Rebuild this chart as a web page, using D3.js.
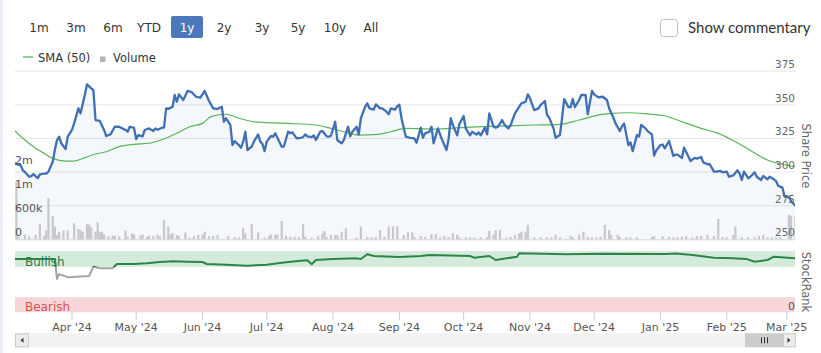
<!DOCTYPE html>
<html>
<head>
<meta charset="utf-8">
<script src="https://cdn.jsdelivr.net/npm/d3@7"></script>
<style>
  html, body { margin: 0; padding: 0; background: #eceef7; }
  svg { display: block; }
  text { font-family: "DejaVu Sans", Verdana, sans-serif; }
</style>
</head>
<body>
<svg id="chart" width="821" height="353"></svg>
<script>
// day offsets are calendar days after START_DATE
const START_DATE = new Date(2024, 2, 5);

const rangeButtons = ["1m", "3m", "6m", "YTD", "1y", "2y", "3y", "5y", "10y", "All"];
const activeRange = "1y";

const priceTicks = [250, 275, 300, 325, 350, 375];
const volumeTicks = [0, 600000, 1200000, 1800000];
const volumeTickLabels = ["0", "600k", "1m", "2m"];

// [day, share price]
const priceData = [
  [0, 306.5], [3, 305], [4, 301.5], [5, 300], [7, 296.5], [8, 297], [9, 298.5], [11, 295.4], [12, 298.3], [14, 298.8],
  [15, 298.8], [16, 300.3], [18, 307.7], [19, 316.4], [20, 323.8], [21, 326.3], [22, 321.4], [24, 317.1], [25, 326.3], [27, 331.3],
  [28, 336.2], [30, 347.4], [31, 343.7], [33, 357.3], [34, 365.2], [36, 362.3], [37, 361], [38, 338.7], [40, 338], [42, 331.3],
  [43, 326.8], [45, 328], [47, 333.7], [49, 333.7], [52, 331.3], [53, 330], [54, 333.7], [56, 332.8], [57, 324.6], [58, 327.5],
  [60, 326.5], [61, 331.3], [63, 332.5], [65, 330.5], [66, 332.5], [67, 331.5], [69, 333], [70, 333], [71, 347.4], [72, 347],
  [74, 348.6], [75, 357.3], [76, 352.3], [77, 357.8], [79, 353.6], [81, 360.3], [83, 359.4], [85, 356], [87, 355.3], [89, 360.3],
  [91, 353], [93, 347.4], [95, 346.9], [97, 348.6], [98, 337.4], [99, 340], [101, 335], [102, 320.1], [103, 323], [105, 320.1],
  [106, 318.1], [107, 322.6], [108, 330], [109, 316.4], [111, 318.9], [112, 322.6], [114, 328], [115, 322.6], [116, 321], [117, 315.6],
  [118, 322.6], [120, 326.8], [121, 326.3], [122, 328.8], [123, 325.5], [125, 318.9], [126, 319], [128, 330], [129, 329], [130, 329.5],
  [132, 325], [134, 325.5], [135, 326], [136, 328], [137, 326.6], [139, 326], [140, 327.3], [141, 323.8], [143, 330], [144, 330.5],
  [146, 326.6], [147, 326.3], [148, 327], [150, 337.4], [151, 323.8], [153, 321.4], [154, 323.8], [156, 333.7], [157, 326.6], [158, 330],
  [160, 333.7], [161, 328], [162, 340], [164, 348.6], [165, 351.1], [166, 347.4], [168, 346.5], [169, 350.3], [171, 347.4], [172, 347.4],
  [174, 344.9], [175, 343], [176, 347.4], [178, 346.5], [179, 349], [180, 350], [181, 340], [182, 333], [183, 326.3], [185, 325.5],
  [187, 325], [188, 321.8], [190, 333], [191, 325.5], [192, 328.8], [194, 330], [195, 333.7], [196, 321.4], [198, 332.5], [200, 323.8],
  [201, 320.1], [202, 316.4], [203, 324.6], [204, 340], [205, 335], [207, 327.3], [208, 335.5], [210, 341.7], [211, 332.5], [213, 327.3],
  [214, 330], [216, 327.8], [217, 329.5], [218, 327.3], [220, 333], [221, 328], [222, 343.7], [224, 333.7], [225, 333], [226, 333.7],
  [227, 336], [228, 338.7], [229, 335.5], [230, 333.7], [231, 332.5], [232, 335], [234, 343.7], [236, 348.6], [237, 351.1], [239, 352.3],
  [240, 357.8], [241, 355], [243, 346.1], [245, 347.4], [246, 350], [248, 352.8], [249, 342.4], [250, 340.5], [252, 332.5], [253, 325.5],
  [255, 327.5], [256, 340], [257, 354.3], [259, 348.3], [260, 348.3], [261, 354.3], [262, 348.3], [264, 353.6], [265, 357.3], [267, 357.3],
  [268, 343], [270, 360.3], [271, 357.8], [273, 355.5], [275, 356], [277, 353.6], [278, 347.4], [280, 340.4], [281, 336.2], [283, 330.5],
  [284, 334], [285, 336.2], [287, 320.1], [288, 322], [289, 315.6], [291, 327.5], [292, 326.5], [293, 335], [295, 332.5], [296, 330.5],
  [298, 328], [299, 312.2], [300, 316], [302, 320.1], [303, 320.5], [304, 317.6], [306, 323.1], [308, 312], [309, 313], [310, 313],
  [312, 310.5], [313, 318.1], [315, 311.7], [316, 308.2], [318, 310.5], [319, 310], [321, 311.2], [322, 307.2], [324, 305.8], [325, 305.8],
  [327, 300.3], [328, 300.3], [330, 300.8], [331, 299.8], [333, 300.3], [334, 296.5], [336, 297.5], [338, 301.3], [339, 298.8], [340, 294.1],
  [341, 300.3], [343, 295.4], [344, 296.5], [346, 299.8], [347, 296.5], [349, 294.1], [350, 297.1], [352, 294.6], [353, 296.5], [355, 294.6],
  [356, 293.3], [357, 289.8], [359, 288.4], [360, 281.7], [362, 281.3], [363, 278.5], [365, 275]
];

// [day, 50 day moving average]
const smaData = [
  [0, 331.3], [4, 325.1], [9, 318.9], [14, 313.9], [18, 310.2], [24, 308.2], [28, 308.2], [33, 310.7], [38, 313.4], [43, 315.1],
  [49, 318.9], [56, 320.6], [63, 321.4], [70, 324.6], [76, 328.8], [82, 333.7], [88, 336.2], [92, 341.2], [99, 343], [105, 340],
  [112, 337.4], [128, 336.2], [141, 335], [148, 332.5], [155, 329.6], [161, 327.5], [170, 328], [176, 330], [183, 332.5], [196, 332],
  [211, 333.3], [227, 334.2], [243, 335], [255, 335.5], [264, 338.7], [274, 342.7], [279, 343.7], [287, 344.1], [296, 343.2], [304, 341.9],
  [312, 337.4], [321, 332.5], [329, 328.8], [337, 322.6], [345, 315.1], [352, 309], [359, 305.8], [365, 304]
];

// [day, volume in thousands of shares]
const volumeData = [
  [1, 1430], [2, 60], [5, 120], [7, 70], [10, 110], [12, 380], [14, 90], [15, 230], [16, 1030], [18, 580],
  [19, 320], [20, 110], [21, 190], [23, 220], [25, 220], [28, 400], [30, 260], [31, 230], [32, 190], [34, 380],
  [35, 370], [36, 310], [38, 190], [39, 420], [40, 190], [41, 190], [42, 120], [44, 70], [46, 90], [47, 90],
  [49, 70], [52, 220], [53, 70], [55, 150], [56, 120], [59, 90], [60, 120], [62, 60], [63, 90], [65, 90],
  [67, 120], [68, 70], [70, 480], [72, 320], [73, 120], [74, 160], [76, 110], [77, 80], [80, 170], [82, 40],
  [84, 80], [86, 110], [88, 120], [89, 190], [91, 80], [93, 80], [95, 110], [100, 80], [103, 50], [105, 50],
  [107, 275], [108, 150], [111, 380], [114, 175], [117, 50], [119, 80], [120, 120], [122, 120], [123, 120], [125, 460],
  [127, 90], [129, 60], [131, 60], [133, 60], [135, 380], [136, 60], [139, 40], [142, 80], [144, 140], [145, 210],
  [146, 60], [148, 110], [150, 110], [151, 110], [153, 190], [155, 275], [160, 40], [162, 320], [165, 60], [167, 50],
  [169, 60], [171, 230], [173, 60], [175, 320], [177, 320], [179, 330], [182, 110], [184, 175], [186, 175], [187, 60],
  [190, 80], [192, 60], [195, 130], [197, 130], [199, 50], [201, 80], [203, 60], [205, 160], [207, 110], [208, 50],
  [211, 50], [213, 50], [215, 50], [218, 50], [221, 60], [222, 210], [224, 110], [225, 230], [227, 230], [230, 40],
  [232, 60], [234, 110], [236, 150], [237, 190], [239, 190], [240, 360], [243, 50], [246, 50], [249, 50], [251, 50],
  [253, 110], [255, 50], [260, 80], [261, 50], [264, 120], [266, 190], [268, 60], [270, 50], [272, 50], [274, 60],
  [276, 360], [278, 230], [279, 110], [282, 120], [283, 60], [286, 50], [288, 50], [291, 50], [298, 60], [299, 80],
  [303, 80], [306, 60], [308, 50], [310, 50], [312, 60], [314, 80], [317, 50], [319, 80], [321, 80], [324, 110],
  [327, 80], [329, 510], [331, 60], [333, 50], [336, 110], [337, 320], [340, 50], [343, 50], [346, 50], [348, 80],
  [350, 110], [352, 50], [354, 50], [356, 50], [358, 50], [362, 610], [363, 590], [365, 590]
];

// [day, StockRank]
const rankData = [
  [0, 88], [19, 88], [20, 55], [21, 63], [25, 58], [35, 60], [37, 75], [40, 72.6], [46, 72.6], [48, 79.7],
  [56, 79.7], [62, 81], [68, 83], [74, 84.2], [81, 83.6], [88, 83], [90, 79.7], [99, 78.6], [109, 77], [118, 78.6],
  [126, 82], [134, 85.2], [137, 85.8], [139, 79.2], [141, 86.3], [149, 88], [160, 89], [162, 88], [165, 95.7], [168, 92.9],
  [180, 91.2], [190, 92.9], [194, 94.6], [213, 92.9], [215, 90.1], [222, 92.9], [225, 86.3], [235, 91.7], [236, 97.4], [258, 95.7],
  [274, 96.7], [305, 96.2], [309, 97], [317, 94.6], [327, 90.1], [336, 89.1], [342, 88.1], [346, 83.5], [352, 86.3], [355, 91.7],
  [365, 89.1]
];

const bullishFrom = 75;
const bearishTo = 25;

function dayToDate(d) {
  return d3.timeDay.offset(START_DATE, d);
}

function drawChart() {
  var svg = d3.select("#chart");
  const plot = { left: 15, right: 795 };

  svg.append("rect")
    .attr("x", 3).attr("y", -10)
    .attr("width", 840).attr("height", 380)
    .attr("rx", 8)
    .attr("fill", "#ffffff");

  var x = d3.scaleTime()
    .domain([START_DATE, dayToDate(365)])
    .range([14.2, 795.3]);

  var yPrice = d3.scaleLinear().domain([250, 375]).range([239.3, 71.2]);
  var yVol = d3.scaleLinear().domain([0, 1800000]).range([239.3, 167.3]);
  var yRank = d3.scaleLinear().domain([0, 100]).range([312.3, 251.7]);

  var defs = svg.append("defs");
  defs.append("clipPath").attr("id", "plotClip")
    .append("rect")
    .attr("x", plot.left).attr("y", 60)
    .attr("width", plot.right - plot.left).attr("height", 260);

  var grad = defs.append("linearGradient")
    .attr("id", "rankGrad")
    .attr("gradientUnits", "userSpaceOnUse")
    .attr("x1", 0).attr("x2", 0)
    .attr("y1", yRank(100)).attr("y2", yRank(0));
  var cut = (100 - bullishFrom) / 100;
  grad.append("stop").attr("offset", cut).attr("stop-color", "#2a8649");
  grad.append("stop").attr("offset", cut).attr("stop-color", "#a3a3a3");

  // price grid
  svg.append("g")
    .selectAll("line")
    .data(priceTicks.slice(1))
    .enter().append("line")
    .attr("x1", plot.left).attr("x2", plot.right)
    .attr("y1", d => yPrice(d)).attr("y2", d => yPrice(d))
    .attr("stroke", "#e6e6e6");

  var main = svg.append("g").attr("clip-path", "url(#plotClip)");

  var area = d3.area()
    .x(d => x(dayToDate(d[0])))
    .y0(yPrice(250))
    .y1(d => yPrice(d[1]));

  main.append("path")
    .datum(priceData)
    .attr("d", area)
    .attr("fill", "#3d6fb6")
    .attr("fill-opacity", 0.055);

  main.append("g")
    .selectAll("rect")
    .data(volumeData)
    .enter().append("rect")
    .attr("x", d => x(dayToDate(d[0])) - 1.1)
    .attr("width", 2.2)
    .attr("y", d => yVol(d[1] * 1000))
    .attr("height", d => yVol(0) - yVol(d[1] * 1000))
    .attr("fill", "#c6c8ce");

  var smaLine = d3.line()
    .curve(d3.curveMonotoneX)
    .x(d => x(dayToDate(d[0])))
    .y(d => yPrice(d[1]));

  main.append("path")
    .datum(smaData)
    .attr("d", smaLine)
    .attr("fill", "none")
    .attr("stroke", "#58b558")
    .attr("stroke-width", 1.2);

  var priceLine = d3.line()
    .x(d => x(dayToDate(d[0])))
    .y(d => yPrice(d[1]));

  main.append("path")
    .datum(priceData)
    .attr("d", priceLine)
    .attr("fill", "none")
    .attr("stroke", "#3f6fb5")
    .attr("stroke-width", 2.3)
    .attr("stroke-linejoin", "round");

  // bottom border of price pane
  svg.append("line")
    .attr("x1", plot.left).attr("x2", plot.right)
    .attr("y1", 239.8).attr("y2", 239.8)
    .attr("stroke", "#d0d3da");

  // price labels (right)
  svg.append("g")
    .selectAll("text")
    .data(priceTicks)
    .enter().append("text")
    .attr("x", plot.right)
    .attr("y", d => yPrice(d) - 3)
    .attr("text-anchor", "end")
    .attr("font-size", "10.5px")
    .attr("fill", "#666")
    .text(d => d);

  // volume labels (left)
  svg.append("g")
    .selectAll("text")
    .data(volumeTicks)
    .enter().append("text")
    .attr("x", plot.left)
    .attr("y", d => yVol(d) - 3)
    .attr("font-size", "11px")
    .attr("fill", "#555")
    .text((d, i) => volumeTickLabels[i]);

  svg.append("text")
    .attr("transform", "translate(801.5,156) rotate(90)")
    .attr("text-anchor", "middle")
    .attr("font-size", "11.5px")
    .attr("fill", "#666")
    .text("Share Price");

  // StockRank pane
  svg.append("line")
    .attr("x1", plot.left).attr("x2", plot.right)
    .attr("y1", yRank(100)).attr("y2", yRank(100))
    .attr("stroke", "#e3e3e3");

  svg.append("rect")
    .attr("x", plot.left).attr("width", plot.right - plot.left)
    .attr("y", yRank(100)).attr("height", yRank(bullishFrom) - yRank(100))
    .attr("fill", "#d4eadb");

  svg.append("rect")
    .attr("x", plot.left).attr("width", plot.right - plot.left)
    .attr("y", yRank(bearishTo)).attr("height", yRank(0) - yRank(bearishTo))
    .attr("fill", "#f6d6d8");

  svg.append("text")
    .attr("x", 25).attr("y", 266)
    .attr("font-size", "12px")
    .attr("fill", "#2f8048")
    .text("Bullish");

  svg.append("text")
    .attr("x", 25).attr("y", 311)
    .attr("font-size", "12px")
    .attr("fill", "#d9534f")
    .text("Bearish");

  svg.append("text")
    .attr("x", plot.right).attr("y", 309.5)
    .attr("text-anchor", "end")
    .attr("font-size", "11px")
    .attr("fill", "#555")
    .text("0");

  var rankLine = d3.line()
    .x(d => x(dayToDate(d[0])))
    .y(d => yRank(d[1]));

  svg.append("g")
    .attr("clip-path", "url(#plotClip)")
    .append("path")
    .datum(rankData)
    .attr("d", rankLine)
    .attr("fill", "none")
    .attr("stroke", "url(#rankGrad)")
    .attr("stroke-width", 2)
    .attr("stroke-linejoin", "round");

  svg.append("text")
    .attr("transform", "translate(801.5,282) rotate(90)")
    .attr("text-anchor", "middle")
    .attr("font-size", "11.5px")
    .attr("fill", "#666")
    .text("StockRank");

  // month axis
  var months = d3.timeMonth.range(d3.timeMonth.ceil(START_DATE), dayToDate(366));
  var fmt = d3.timeFormat("%b '%y");
  var xAxis = svg.append("g");
  xAxis.selectAll("line")
    .data(months)
    .enter().append("line")
    .attr("x1", d => x(d)).attr("x2", d => x(d))
    .attr("y1", yRank(0)).attr("y2", 320)
    .attr("stroke", "#cccccc");
  xAxis.selectAll("text")
    .data(months)
    .enter().append("text")
    .attr("x", d => x(d))
    .attr("y", 331)
    .attr("text-anchor", "middle")
    .attr("font-size", "11px")
    .attr("fill", "#555")
    .text(d => fmt(d));

  drawScrollbar(svg, plot);
  drawControls(svg);
}

function drawScrollbar(svg, plot) {
  var top = 333.3, h = 14;
  var bar = svg.append("g");
  bar.append("rect")
    .attr("x", plot.left).attr("y", top)
    .attr("width", plot.right - plot.left + 1).attr("height", h)
    .attr("fill", "#f2f2f2");
  bar.append("rect")
    .attr("x", plot.left + 0.5).attr("y", top + 0.5)
    .attr("width", 13).attr("height", h - 1)
    .attr("fill", "#ebebeb").attr("stroke", "#cccccc");
  bar.append("path")
    .attr("d", `M${plot.left + 8.5},${top + 4.5} L${plot.left + 5.5},${top + 7} L${plot.left + 8.5},${top + 9.5} Z`)
    .attr("fill", "#333");
  bar.append("rect")
    .attr("x", 745).attr("y", top)
    .attr("width", 38).attr("height", h)
    .attr("fill", "#cccccc");
  [761, 764, 767].forEach(function (gx) {
    bar.append("line")
      .attr("x1", gx + 0.5).attr("x2", gx + 0.5)
      .attr("y1", top + 4).attr("y2", top + 10)
      .attr("stroke", "#333");
  });
  bar.append("rect")
    .attr("x", 783.5).attr("y", top + 0.5)
    .attr("width", 12).attr("height", h - 1)
    .attr("fill", "#ebebeb").attr("stroke", "#cccccc");
  bar.append("path")
    .attr("d", `M787.5,${top + 4.5} L790.5,${top + 7} L787.5,${top + 9.5} Z`)
    .attr("fill", "#333");
}

function drawControls(svg) {
  const btnX = [39, 76, 113, 149, 187, 224, 262, 298, 335, 371];
  var g = svg.append("g");
  rangeButtons.forEach(function (label, i) {
    if (label == activeRange) {
      g.append("rect")
        .attr("x", btnX[i] - 16).attr("y", 16)
        .attr("width", 32).attr("height", 22)
        .attr("rx", 2)
        .attr("fill", "#4a78bb");
    }
    g.append("text")
      .attr("x", btnX[i]).attr("y", 31.5)
      .attr("text-anchor", "middle")
      .attr("font-size", "12px")
      .attr("fill", label == activeRange ? "#ffffff" : "#333")
      .text(label);
  });

  g.append("rect")
    .attr("x", 660.5).attr("y", 19.5)
    .attr("width", 17).attr("height", 17)
    .attr("rx", 3)
    .attr("fill", "#fff").attr("stroke", "#bdbdbd");
  g.append("text")
    .attr("x", 688).attr("y", 33)
    .style("font-family", "Lato, sans-serif")
    .attr("font-size", "15px")
    .attr("fill", "#333")
    .text("Show commentary");

  // legend
  g.append("line")
    .attr("x1", 23).attr("x2", 33)
    .attr("y1", 57).attr("y2", 57)
    .attr("stroke", "#8fd08f").attr("stroke-width", 2);
  g.append("text")
    .attr("x", 38).attr("y", 61.5)
    .attr("font-size", "11.5px")
    .attr("fill", "#333")
    .text("SMA (50)");
  g.append("rect")
    .attr("x", 100).attr("y", 56.5)
    .attr("width", 5.5).attr("height", 5.5)
    .attr("fill", "#b3b3b8");
  g.append("text")
    .attr("x", 113).attr("y", 61.5)
    .attr("font-size", "11.5px")
    .attr("fill", "#333")
    .text("Volume");
}

drawChart();
</script>
</body>
</html>
